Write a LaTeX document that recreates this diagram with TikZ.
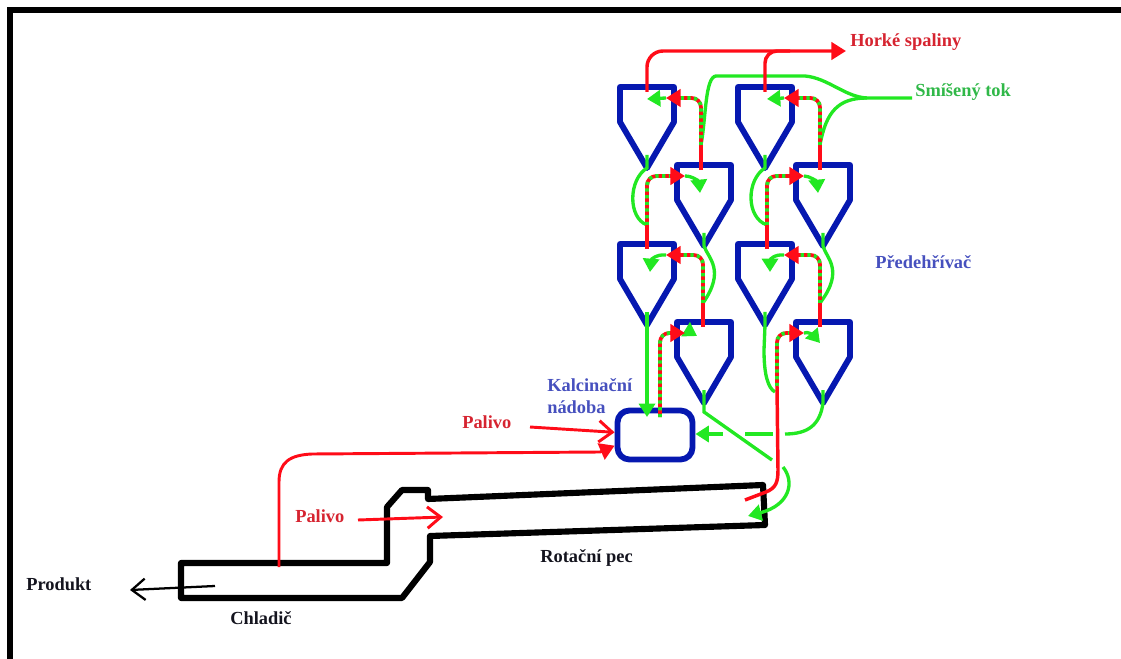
\documentclass[tikz,border=0pt]{standalone}
\usepackage{fontspec}
\setmainfont{Liberation Serif}
\usetikzlibrary{arrows.meta}
\definecolor{cycloneblue}{RGB}{6,24,176}
\definecolor{gasred}{RGB}{255,12,24}
\definecolor{mixgreen}{RGB}{34,232,34}
\definecolor{labelred}{RGB}{214,36,48}
\definecolor{labelblue}{RGB}{70,80,190}
\definecolor{labelgreen}{RGB}{48,184,72}
\definecolor{labelblack}{RGB}{20,20,30}
\tikzset{
	frameline/.style={draw=black, line width=4.5pt},
	kilnwall/.style={draw=black, line width=4.6pt, line join=round},
	cyclonewall/.style={draw=cycloneblue, line width=4.4pt, line join=round},
	gasline/.style={draw=gasred, line width=2.6pt},
	solidline/.style={draw=mixgreen, line width=2.5pt},
	mixedline/.style={draw=gasred, line width=2.8pt, rounded corners=7pt,
		postaction={draw=mixgreen, line width=2.8pt, dash pattern=on 2.4pt off 2.6pt}},
	gashead/.style={draw=gasred, line width=2.6pt, -{Triangle[length=11pt,width=13pt]}},
	solidhead/.style={draw=mixgreen, line width=2.5pt, -{Triangle[length=10pt,width=12pt]}},
	openhead/.style={-{Straight Barb[length=10pt,width=16pt]}, line width=2.2pt},
	caption/.style={font=\fontsize{13.8}{16.5}\selectfont\bfseries, align=left, inner sep=0pt},
	pics/cyclone/.style={code={
		\draw[cyclonewall] (0,0) -- (54,0) -- (54,35) -- (27,81) -- (0,35) -- cycle;
		\coordinate (-top) at (27,5);
		\coordinate (-gas) at (24,5);
		\coordinate (-neck) at (27,68);
		\coordinate (-tip) at (27,81);
		\coordinate (-rin) at (46,11);
		\coordinate (-rtail) at (61,11);
		\coordinate (-lin) at (8,11);
		\coordinate (-ltail) at (-7,11);
	}},
}
\begin{document}
\begin{tikzpicture}[x=0.75pt, y=-0.75pt]
	\useasboundingbox (0,0) rectangle (1121,659);
	
	%% -- Outer frame
	\draw[frameline] (10,659) -- (10,10) -- (1121,10);
	
	%% -- Kiln and cooler
	\draw[kilnwall] (181,563) -- (387,563) -- (387,507) -- (402,490) -- (428,490)
	-- (428,499) -- (763,485) -- (765,525) -- (430,536) -- (430,562) -- (402,598)
	-- (181,598) -- cycle;
	
	%% -- Preheater cyclones, two columns
	\pic (c1) at (620,87) {cyclone};
	\pic (c2) at (677,165) {cyclone};
	\pic (c3) at (738,87) {cyclone};
	\pic (c4) at (796,165) {cyclone};
	\pic (c5) at (620,244) {cyclone};
	\pic (c6) at (677,322) {cyclone};
	\pic (c7) at (738,244) {cyclone};
	\pic (c8) at (796,322) {cyclone};
	
	\node[cyclonewall, draw, rounded corners=9pt, minimum width=56.25pt,
	minimum height=36.75pt, inner sep=0pt] (kalc) at (655,435) {};
	
	%% -- Labels
	\node[caption, text=labelred, anchor=west] (hot) at (850,42) {Horké spaliny};
	\node[caption, text=labelgreen, anchor=west] (mix) at (915,92) {Smíšený tok};
	\node[caption, text=labelblue, anchor=west] (pre) at (875,262) {Předehřívač};
	\node[caption, text=labelblue, anchor=north west] (nad) at (547,378) {Kalcinační\\nádoba};
	\node[caption, text=labelred, anchor=west] (fuel1) at (462,422) {Palivo};
	\node[caption, text=labelred, anchor=west] (fuel2) at (295,516) {Palivo};
	\node[caption, text=labelblack, anchor=west] (rot) at (540,558) {Rotační pec};
	\node[caption, text=labelblack, anchor=west] (prod) at (26,584) {Produkt};
	\node[caption, text=labelblack, anchor=west] (chl) at (230,618) {Chladič};
	
	%% -- Free ends of the connectors
	\coordinate (hotout) at (846,51);
	\coordinate (mixjoin) at (867,98);
	\coordinate (mixin) at (912,98);
	\coordinate (rise2) at (701,145);
	\coordinate (rise4) at (820,145);
	\coordinate (rise5) at (647,225);
	\coordinate (rise7) at (767,225);
	\coordinate (rise6) at (703,303);
	\coordinate (rise8) at (820,303);
	\coordinate (rise9) at (777,386);
	\coordinate (foot5) at (647,249);
	\coordinate (foot6) at (703,327);
	\coordinate (foot7) at (767,249);
	\coordinate (foot8) at (820,327);
	\coordinate (kalcup) at (660,417);
	\coordinate (kalcin) at (647,417);
	\coordinate (feedA) at (723,434);
	\coordinate (feedB) at (745,434);
	\coordinate (feedC) at (773,434);
	\coordinate (feedD) at (785,434);
	\coordinate (diagend) at (772,460);
	\coordinate (kilnin) at (748,516);
	\coordinate (kilnarc) at (783,467);
	\coordinate (kilngas) at (745,500);
	\coordinate (coolgas) at (279,567);
	\coordinate (fuelA) at (530,427);
	\coordinate (fuelB) at (358,520);
	\coordinate (fuelC) at (443,517);
	\coordinate (prodA) at (215,586);
	\coordinate (prodB) at (130,590);
	
	%% -- Green material flow
	\draw[solidline] (rise2) .. controls (706,118) and (705,77) .. (716,76)
	-- (805,76) .. controls (828,78) and (845,97) .. (mixjoin) -- (mixin);
	\draw[solidline] (rise4) .. controls (826,112) and (838,98) .. (mixjoin);
	\draw[solidline] (c1-neck) -- (c1-tip) .. controls (628,180) and (628,218) .. (rise5);
	\draw[solidline] (c3-neck) -- (c3-tip) .. controls (746,180) and (746,218) .. (rise7);
	\draw[solidline] (c2-neck) -- (c2-tip) .. controls (708,258) and (726,270) .. (rise6);
	\draw[solidline] (c4-neck) -- (c4-tip) .. controls (826,258) and (845,270) .. (rise8);
	\draw[solidline] (c7-neck) -- (c7-tip) -- (764,350) .. controls (764,375) and (768,388) .. (775,392);
	\draw[solidhead] (c5-neck) -- (kalcin);
	\draw[solidline] (c6-neck) -- (c6-tip) -- (704,412) -- (diagend);
	\draw[solidline] (c8-neck) -- (c8-tip) .. controls (820,425) and (808,434) .. (feedD);
	\draw[solidline] (feedC) -- (feedB);
	\draw[solidhead] (feedA) -- (kalc.east |- feedA);
	\draw[solidhead] (kilnarc) .. controls (795,482) and (790,505) .. (kilnin);
	
	%% -- Swirl inside each cyclone
	\draw[solidhead] (c1-rin) -- (647,99);
	\draw[solidhead] (c3-rin) -- (767,99);
	\draw[solidhead] (c2-lin) .. controls (693,176) and (699,182) .. (700,193);
	\draw[solidhead] (c4-lin) .. controls (810,176) and (817,182) .. (818,193);
	\draw[solidhead] (c5-rin) .. controls (656,254) and (651,260) .. (650,272);
	\draw[solidhead] (c7-rin) .. controls (774,254) and (770,260) .. (770,272);
	\draw[solidhead] (c6-lin) .. controls (688,330) and (692,333) .. (697,336);
	\draw[solidhead] (c8-lin) .. controls (808,331) and (814,336) .. (820,343);
	
	%% -- Red gas flow
	\draw[gashead, rounded corners=12pt] (c1-top) |- (hotout);
	\draw[gasline, rounded corners=9pt] (c3-top) |- (790,51);
	\draw[gasline] (c2-gas) -- (rise2);
	\draw[gasline] (c4-gas) -- (rise4);
	\draw[gasline] (foot5) -- (rise5);
	\draw[gasline] (foot7) -- (rise7);
	\draw[gasline] (foot6) -- (rise6);
	\draw[gasline] (foot8) -- (rise8);
	\draw[mixedline] (rise2) |- (c1-rtail);
	\draw[mixedline] (rise4) |- (c3-rtail);
	\draw[mixedline] (rise5) |- (c2-ltail);
	\draw[mixedline] (rise7) |- (c4-ltail);
	\draw[mixedline] (rise6) |- (c5-rtail);
	\draw[mixedline] (rise8) |- (c7-rtail);
	\draw[mixedline] (kalcup) |- (c6-ltail);
	\draw[mixedline] (rise9) |- (c8-ltail);
	\draw[gashead] (c1-rtail) -- (c1-rin);
	\draw[gashead] (c3-rtail) -- (c3-rin);
	\draw[gashead] (c2-ltail) -- (c2-lin);
	\draw[gashead] (c4-ltail) -- (c4-lin);
	\draw[gashead] (c5-rtail) -- (c5-rin);
	\draw[gashead] (c7-rtail) -- (c7-rin);
	\draw[gashead] (c6-ltail) -- (c6-lin);
	\draw[gashead] (c8-ltail) -- (c8-lin);
	\draw[gasline] (rise9) -- (778,470) .. controls (778,482) and (776,488) .. (766,492) -- (kilngas);
	
	%% -- Fuel and product
	\draw[gashead, line width=2.2pt] (coolgas) -- (279,482) .. controls (279,462) and (290,455) .. (312,454)
	-- (600,452) -- ([yshift=-8pt]kalc.west);
	\draw[openhead, draw=gasred] (fuelA) -- ([yshift=2pt]kalc.west);
	\draw[openhead, draw=gasred] (fuelB) -- (fuelC);
	\draw[openhead, draw=black, line width=1.7pt] (prodA) -- (prodB);
	
\end{tikzpicture}
\end{document}
